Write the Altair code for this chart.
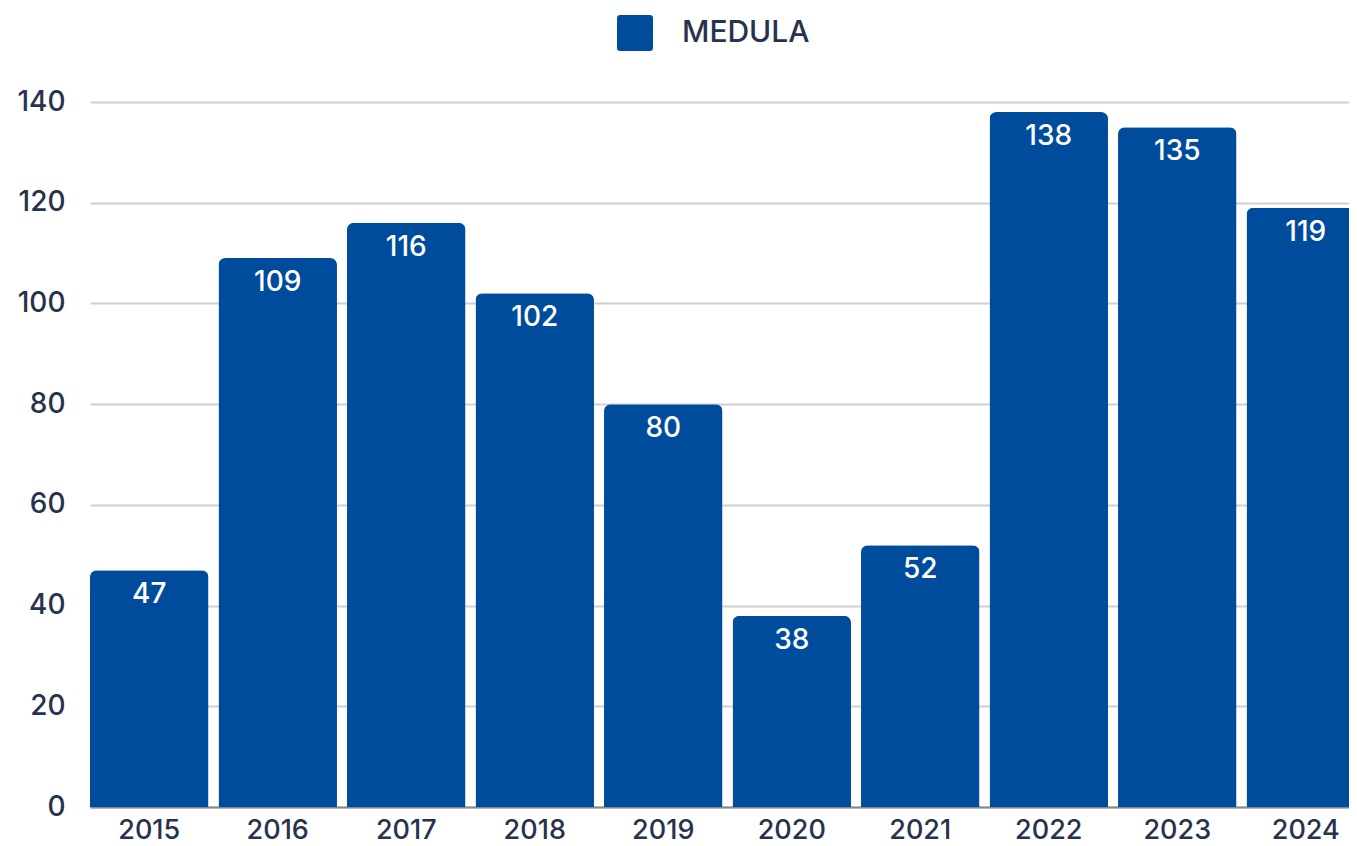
import altair as alt
import pandas as pd

years = ["2015", "2016", "2017", "2018", "2019", "2020", "2021", "2022", "2023", "2024"]
values = [47, 109, 116, 102, 80, 38, 52, 138, 135, 119]
series = ["MEDULA"] * len(years)

df = pd.DataFrame({"year": years, "value": values, "series": series})

FONT = "Inter"
TXT = "#27324d"
BAR = "#004c9c"

rounded_square = ("M -0.82 -1 L 0.82 -1 Q 1 -1 1 -0.82 L 1 0.82 Q 1 1 0.82 1 "
                  "L -0.82 1 Q -1 1 -1 0.82 L -1 -0.82 Q -1 -1 -0.82 -1 Z")

x = alt.X("year:N", sort=years, title=None,
          scale=alt.Scale(range=[0, 1275], paddingInner=0.078, paddingOuter=0),
          axis=alt.Axis(labelAngle=0, ticks=False, domain=True, domainColor="#888888",
                        domainWidth=2, labelFont=FONT, labelFontSize=27, labelColor=TXT,
                        labelFontWeight=500, labelPadding=10, grid=False))
y = alt.Y("value:Q", title=None,
          scale=alt.Scale(domain=[0, 140], nice=False),
          axis=alt.Axis(values=[0, 20, 40, 60, 80, 100, 120, 140], ticks=False, domain=False,
                        gridColor="#cfd0d6", gridWidth=2, labelFont=FONT, labelFontSize=28,
                        labelColor=TXT, labelFontWeight=500, labelPadding=25))

bars = alt.Chart(df).mark_bar(cornerRadiusTopLeft=7, cornerRadiusTopRight=7).encode(
    x=x, y=y,
    color=alt.Color("series:N", title=None,
                    scale=alt.Scale(range=[BAR]),
                    legend=alt.Legend(orient="none", legendX=527, legendY=-87,
                                      symbolType=rounded_square, symbolSize=1296,
                                      symbolStrokeWidth=0, labelFont=FONT, labelFontSize=30,
                                      labelColor=TXT, labelFontWeight=500, labelOffset=29,
                                      direction="horizontal")),
)

labels = alt.Chart(df).mark_text(color="white", font=FONT, fontSize=28, fontWeight=500,
                                 baseline="middle", dy=25).encode(
    x=alt.X("year:N", sort=years),
    y=alt.Y("value:Q"),
    text=alt.Text("value:Q"),
)

chart = alt.layer(bars, labels).properties(
    width=1259, height=705,
    autosize=alt.AutoSizeParams(type="none"),
    padding={"left": 82, "top": 94, "right": 0, "bottom": 38},
).configure_view(stroke=None)

chart.save("out.html", embed_options={"renderer": "svg", "actions": False})
